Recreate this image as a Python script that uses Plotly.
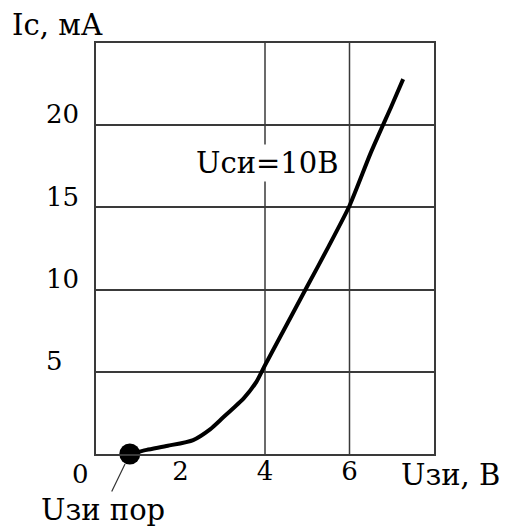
import plotly.graph_objects as go

# Transfer characteristic data (Uзи, В ; Ic, мА)
u_gs = [0.8, 1.2, 1.7, 2.3, 2.7, 3.0, 3.5, 3.8, 4.0, 4.5, 5.0, 5.5, 6.0, 6.5, 7.0, 7.27]
i_d = [0.0, 0.25, 0.5, 0.85, 1.5, 2.2, 3.4, 4.4, 5.4, 7.8, 10.2, 12.6, 15.1, 18.3, 21.2, 22.8]

u_threshold = [0.8]
i_threshold = [0.0]

x_ticks = [2, 4, 6]
x_ticktext = ["2", "4", "6"]
x_grid = [4, 6]
y_ticks = [5, 10, 15, 20]
y_ticktext = ["5\u2007", "10", "15", "20"]

FONT = "DejaVu Serif"
FS = 26
FS_TXT = 29
GRID = "#3a3a3a"

# plot area in pixels (for paper-coordinate labels)
L, R, T, B = 96, 434, 43, 454
W, H = 507, 527


def px(xp):
    return (xp - L) / (R - L)


def py(yp):
    return (B - yp) / (B - T)


fig = go.Figure()
fig.add_trace(go.Scatter(
    x=u_gs, y=i_d, mode="lines",
    line=dict(color="black", width=4, shape="spline", smoothing=0.6),
    cliponaxis=False, showlegend=False, hoverinfo="skip"))
fig.add_trace(go.Scatter(
    x=u_threshold, y=i_threshold, mode="markers",
    marker=dict(color="black", size=21),
    cliponaxis=False, showlegend=False, hoverinfo="skip"))

for gx in x_grid:
    fig.add_shape(type="line", xref="x", yref="y", x0=gx, x1=gx, y0=0, y1=25,
                  line=dict(color=GRID, width=1.5), layer="below")

fig.add_annotation(x=4.05, y=17.7, xref="x", yref="y", text="Uси=10В",
                   showarrow=False, bgcolor="white",
                   font=dict(family=FONT, size=FS_TXT, color="black"))
fig.add_annotation(x=px(10), y=py(25), xref="paper", yref="paper", text="Ic, мА",
                   xanchor="left", yanchor="middle", showarrow=False,
                   font=dict(family=FONT, size=FS_TXT, color="black"))
fig.add_annotation(x=px(399), y=py(475), xref="paper", yref="paper", text="Uзи, В",
                   xanchor="left", yanchor="middle", showarrow=False,
                   font=dict(family=FONT, size=FS_TXT, color="black"))
fig.add_annotation(x=px(80), y=py(474), xref="paper", yref="paper", text="0",
                   xanchor="center", yanchor="middle", showarrow=False,
                   font=dict(family=FONT, size=FS, color="black"))
fig.add_annotation(x=0.8, y=0, xref="x", yref="y", text="Uзи пор",
                   showarrow=True, arrowhead=0, arrowwidth=1.2, arrowcolor="#333",
                   ax=-27, ay=56, standoff=11,
                   font=dict(family=FONT, size=FS_TXT, color="black"))

fig.update_layout(
    width=W, height=H,
    margin=dict(l=L, r=W - R, t=T, b=H - B),
    paper_bgcolor="white", plot_bgcolor="white",
    font=dict(family=FONT, size=FS, color="black"),
    xaxis=dict(range=[0, 8], tickvals=x_ticks, ticktext=x_ticktext,
               showgrid=False, zeroline=False, ticks="", ticklabelstandoff=-7,
               showline=True, mirror=True, linecolor=GRID, linewidth=1.5,
               tickfont=dict(family=FONT, size=FS, color="black")),
    yaxis=dict(range=[0, 25], tickvals=y_ticks, ticktext=y_ticktext,
               showgrid=True, gridcolor=GRID, gridwidth=1.5, zeroline=False,
               ticks="", ticklabelstandoff=10, ticklabelshift=-11,
               showline=True, mirror=True, linecolor=GRID, linewidth=1.5,
               tickfont=dict(family=FONT, size=FS, color="black")),
)

fig.write_html("out.html")
